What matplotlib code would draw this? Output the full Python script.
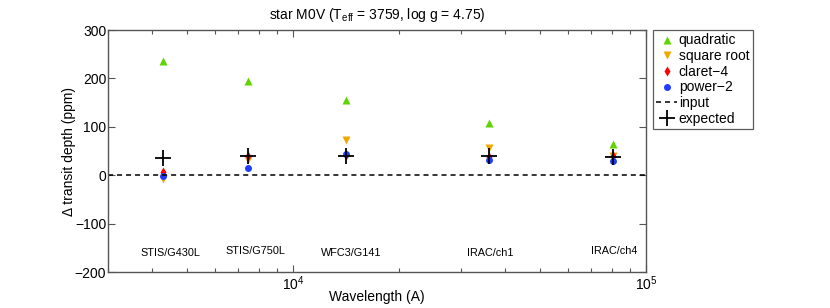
import matplotlib
matplotlib.use("Agg")
import matplotlib.pyplot as plt
from matplotlib.ticker import LogLocator, NullFormatter

plt.rcParams["font.family"] = ["Liberation Sans", "DejaVu Sans"]
plt.rcParams["mathtext.fontset"] = "custom"
plt.rcParams["mathtext.rm"] = "Liberation Sans"
plt.rcParams["mathtext.it"] = "Liberation Sans:italic"

# band centres (Angstrom) and labels
wavelength = [4276, 7470, 14100, 35950, 80400]
bands = ["STIS/G430L", "STIS/G750L", "WFC3/G141", "IRAC/ch1", "IRAC/ch4"]
band_label_x = [4500, 7850, 14600, 36100, 81000]
band_label_y = [-160, -156, -160, -160, -156]

# delta transit depth (ppm) for each limb-darkening law
quadratic = [237, 195, 155, 108, 64]
square_root = [-8, 31, 72, 57, 41]
claret4 = [6, 41, 43, 37, 39]
power2 = [-1, 15, 45, 32, 29]
expected = [36, 39, 41, 39, 37]

fig = plt.figure(figsize=(8.3, 3.08), dpi=100)
ax = fig.add_axes([108.3/830, 1-272.3/308, (646-108.3)/830, (272.3-30)/308])

ax.plot(wavelength, quadratic, "^", color="#5fd400", ms=5.5, mec="none", label="quadratic")
ax.plot(wavelength, square_root, "v", color="#f0a800", ms=5.5, mec="none", label="square root")
ax.plot(wavelength, claret4, "d", color="#ff0000", ms=5.5, mec="none", label="claret\u22124")
ax.plot(wavelength, power2, "o", color="#1f3cff", ms=5, mec="none", label="power\u22122")
ax.axhline(0, color="black", ls=(0, (3.3, 2.6)), lw=1.1, label="input")
ax.plot(wavelength, expected, "+", color="black", ms=11, mew=1.3, label="expected")

for x, y, t in zip(band_label_x, band_label_y, bands):
    ax.text(x, y, t, ha="center", va="center", fontsize=7.8)

ax.set_xscale("log")
ax.set_xlim(3000, 1e5)
ax.set_ylim(-200, 300)
ax.set_yticks([-200, -100, 0, 100, 200, 300])
ax.xaxis.set_minor_locator(LogLocator(base=10, subs=range(2, 10)))
ax.xaxis.set_minor_formatter(NullFormatter())
ax.tick_params(which="both", direction="in", top=True, right=True, colors="#555555",
               labelcolor="black", labelsize=10, width=0.8)
ax.tick_params(which="major", length=5)
ax.tick_params(which="minor", length=3)
ax.tick_params(axis="y", pad=1.5)
ax.tick_params(axis="x", pad=1.5)
for s in ax.spines.values():
    s.set_color("#555555")
    s.set_linewidth(1)

ax.set_xlabel("Wavelength (A)", fontsize=10, labelpad=-2)
ax.set_ylabel("\u0394 transit depth (ppm)", fontsize=10, labelpad=-1)
ax.set_title("star M0V (T$_{\\rm eff}$ = 3759, log g = 4.75)", fontsize=10, pad=8)

leg = ax.legend(loc="upper left", bbox_to_anchor=(653/830, 1-30/308),
                bbox_transform=fig.transFigure, fontsize=10, frameon=True,
                fancybox=False, borderpad=0.25, labelspacing=0.12,
                handlelength=1.5, handletextpad=0.1, borderaxespad=0)
leg.get_frame().set_edgecolor("#333333")
leg.get_frame().set_linewidth(0.9)

plt.savefig("out.png", dpi=100)
